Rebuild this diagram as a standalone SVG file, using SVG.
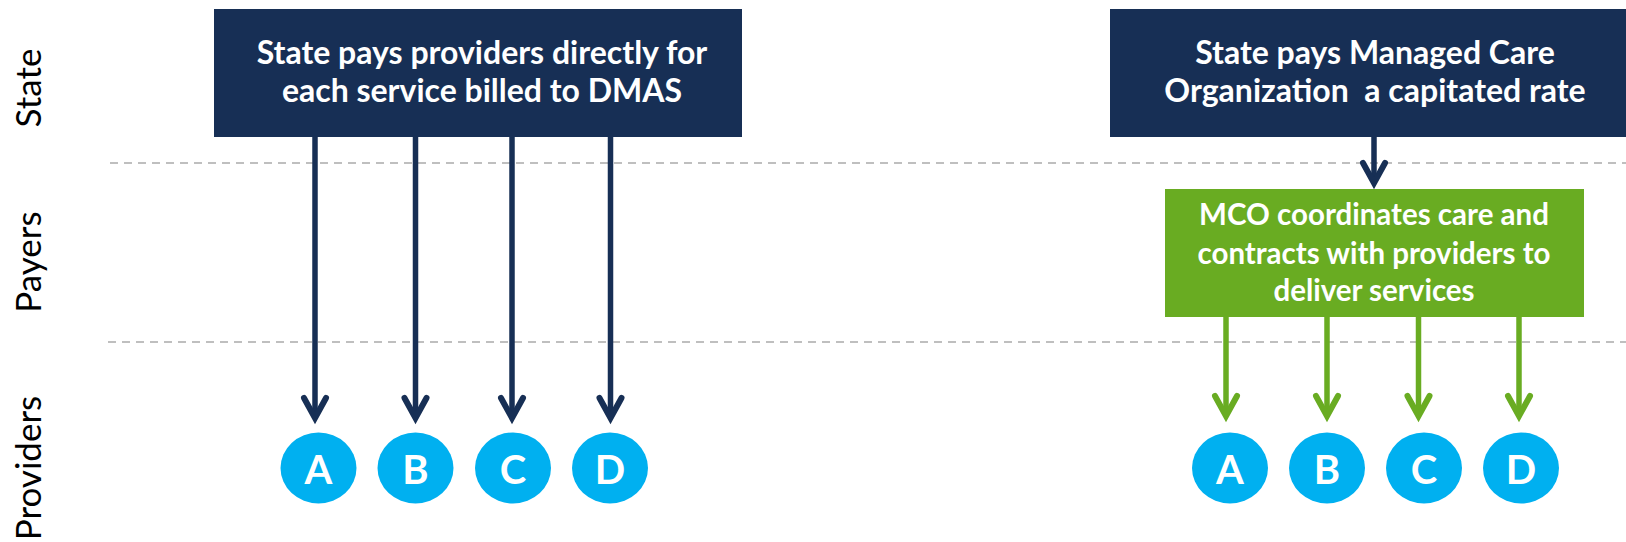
<svg xmlns="http://www.w3.org/2000/svg" width="1626" height="542" viewBox="0 0 1626 542">
  <style>
    .bg { fill: #ffffff; }
    .lane-label { font-family: Lato, "Liberation Sans", sans-serif; font-size: 35px; fill: #000000; text-anchor: middle; }
    .divider { stroke: #bfbfbf; stroke-width: 2; stroke-dasharray: 8 6; fill: none; }
    .navy-box { fill: #172f55; }
    .green-box { fill: #69ac22; }
    .box-text { font-family: Lato, "Liberation Sans", sans-serif; font-weight: bold; font-size: 32px; fill: #ffffff; text-anchor: middle; }
    .box-text-sm { font-family: Lato, "Liberation Sans", sans-serif; font-weight: bold; font-size: 29.5px; fill: #ffffff; text-anchor: middle; }
    .prov { fill: #00b0f0; }
    .prov-text { font-family: Lato, "Liberation Sans", sans-serif; font-weight: bold; font-size: 40px; fill: #ffffff; text-anchor: middle; }
    .link-navy { stroke: #172f55; stroke-width: 5.5; fill: none; }
    .link-green { stroke: #69ac22; stroke-width: 5.5; fill: none; }
  </style>
  <defs>
    <marker id="head-navy" markerUnits="userSpaceOnUse" viewBox="-30 -20 40 40" markerWidth="40" markerHeight="40" refX="0" refY="0" orient="auto" overflow="visible">
      <path d="M -20 -11 L 0 0 L -20 11" fill="none" stroke="#172f55" stroke-width="6" stroke-linecap="round" stroke-linejoin="miter"/>
    </marker>
    <marker id="head-green" markerUnits="userSpaceOnUse" viewBox="-30 -20 40 40" markerWidth="40" markerHeight="40" refX="0" refY="0" orient="auto" overflow="visible">
      <path d="M -20 -11 L 0 0 L -20 11" fill="none" stroke="#69ac22" stroke-width="6" stroke-linecap="round" stroke-linejoin="miter"/>
    </marker>
  </defs>
  <rect class="bg" x="0" y="0" width="1626" height="542"/>

  <g id="lane-labels">
    <text class="lane-label" transform="translate(41,88) rotate(-90)">State</text>
    <text class="lane-label" transform="translate(41,262) rotate(-90)">Payers</text>
    <text class="lane-label" transform="translate(41,468) rotate(-90)">Providers</text>
  </g>

  <g id="dividers">
    <line class="divider" x1="110" y1="163" x2="1626" y2="163"/>
    <line class="divider" x1="108" y1="342" x2="1626" y2="342"/>
  </g>

  <g id="connectors">
    <line class="link-navy" x1="315" y1="137" x2="315" y2="418" marker-end="url(#head-navy)"/>
    <line class="link-navy" x1="415.5" y1="137" x2="415.5" y2="418" marker-end="url(#head-navy)"/>
    <line class="link-navy" x1="512" y1="137" x2="512" y2="418" marker-end="url(#head-navy)"/>
    <line class="link-navy" x1="610.5" y1="137" x2="610.5" y2="418" marker-end="url(#head-navy)"/>
    <line class="link-navy" x1="1374" y1="137" x2="1374" y2="183" marker-end="url(#head-navy)"/>
    <line class="link-green" x1="1226" y1="317" x2="1226" y2="416" marker-end="url(#head-green)"/>
    <line class="link-green" x1="1327" y1="317" x2="1327" y2="416" marker-end="url(#head-green)"/>
    <line class="link-green" x1="1418.5" y1="317" x2="1418.5" y2="416" marker-end="url(#head-green)"/>
    <line class="link-green" x1="1519" y1="317" x2="1519" y2="416" marker-end="url(#head-green)"/>
  </g>

  <g id="ffs-state">
    <rect class="navy-box" x="214" y="9" width="528" height="128"/>
    <text class="box-text" x="482" y="63.5">State pays providers directly for</text>
    <text class="box-text" x="482" y="102">each service billed to DMAS</text>
  </g>

  <g id="mc-state">
    <rect class="navy-box" x="1110" y="9" width="516" height="128"/>
    <text class="box-text" x="1375" y="63.5">State pays Managed Care</text>
    <text class="box-text" x="1375" y="102" xml:space="preserve">Organization  a capitated rate</text>
  </g>

  <g id="mco">
    <rect class="green-box" x="1165" y="189" width="419" height="128"/>
    <text class="box-text-sm" x="1374" y="225">MCO coordinates care and</text>
    <text class="box-text-sm" x="1374" y="263.5">contracts with providers to</text>
    <text class="box-text-sm" x="1374" y="301">deliver services</text>
  </g>

  <g id="ffs-provider-a"><ellipse class="prov" cx="318.5" cy="468" rx="38" ry="35.5"/><text class="prov-text" x="318.5" y="484">A</text></g>
  <g id="ffs-provider-b"><ellipse class="prov" cx="415.5" cy="468" rx="38" ry="35.5"/><text class="prov-text" x="415.5" y="484">B</text></g>
  <g id="ffs-provider-c"><ellipse class="prov" cx="513" cy="468" rx="38" ry="35.5"/><text class="prov-text" x="513" y="484">C</text></g>
  <g id="ffs-provider-d"><ellipse class="prov" cx="610" cy="468" rx="38" ry="35.5"/><text class="prov-text" x="610" y="484">D</text></g>

  <g id="mc-provider-a"><ellipse class="prov" cx="1230" cy="468" rx="38" ry="35.5"/><text class="prov-text" x="1230" y="484">A</text></g>
  <g id="mc-provider-b"><ellipse class="prov" cx="1327" cy="468" rx="38" ry="35.5"/><text class="prov-text" x="1327" y="484">B</text></g>
  <g id="mc-provider-c"><ellipse class="prov" cx="1424" cy="468" rx="38" ry="35.5"/><text class="prov-text" x="1424" y="484">C</text></g>
  <g id="mc-provider-d"><ellipse class="prov" cx="1521" cy="468" rx="38" ry="35.5"/><text class="prov-text" x="1521" y="484">D</text></g>
</svg>
